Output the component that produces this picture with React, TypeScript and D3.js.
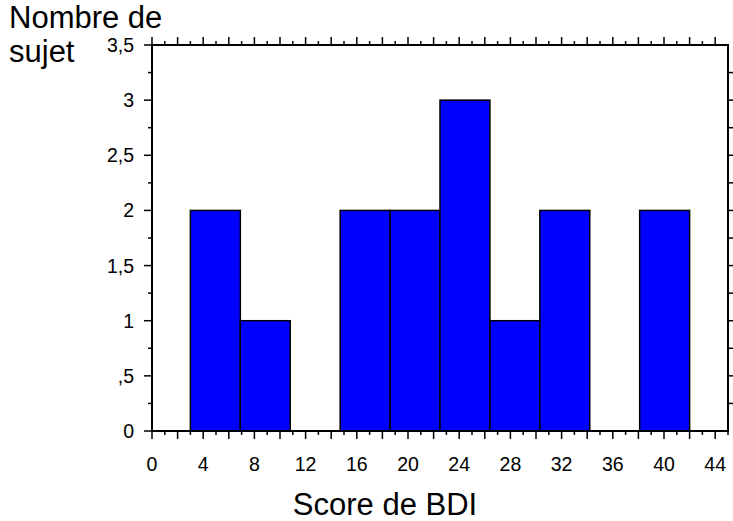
import React, { useEffect, useRef } from "react";
import * as d3 from "d3";

// histogram bins (score de BDI) and counts
const binEdges: number[] = [3, 6.9, 10.8, 14.7, 18.6, 22.5, 26.4, 30.3, 34.2, 38.1, 42];
const counts: number[] = [2, 1, 0, 2, 2, 3, 1, 2, 0, 2];
const xTickValues: number[] = [0, 4, 8, 12, 16, 20, 24, 28, 32, 36, 40, 44];
const yTickValues: number[] = [0, 0.5, 1, 1.5, 2, 2.5, 3, 3.5];
const yTickLabels: string[] = ["0", ",5", "1", "1,5", "2", "2,5", "3", "3,5"];

const W = 733;
const H = 521;
const FONT = "Liberation Sans, Arial, sans-serif";

function App() {
  const ref = useRef<SVGSVGElement>(null);

  useEffect(() => {
    const svg = d3.select(ref.current);
    svg.selectAll("*").remove();

    const left = 152, right = 728, top = 45, bottom = 431;

    const x = d3.scaleLinear().domain([0, 45]).range([left, right]);
    const y = d3.scaleLinear().domain([0, 3.5]).range([bottom, top]);

    //bars
    const bins = counts.map((c, i) => ({ x0: binEdges[i], x1: binEdges[i + 1], c }));
    svg
      .append("g")
      .selectAll("rect")
      .data(bins.filter((b) => b.c > 0))
      .join("rect")
      .attr("x", (d) => x(d.x0))
      .attr("width", (d) => x(d.x1) - x(d.x0))
      .attr("y", (d) => y(d.c))
      .attr("height", (d) => y(0) - y(d.c))
      .attr("fill", "#0000ff")
      .attr("stroke", "#000")
      .attr("stroke-width", 1.5);

    const minorX = d3.range(0, 46, 1);
    const minorY = d3.range(0, 3.51, 0.25);

    // bottom + top ticks
    const tickG = svg.append("g").attr("stroke", "#000").attr("stroke-width", 1.5);
    minorX.forEach((v) => {
      const len = v % 2 === 0 ? 8 : 4;
      tickG.append("line").attr("x1", x(v)).attr("x2", x(v)).attr("y1", bottom).attr("y2", bottom + len);
      if (v < 45) tickG.append("line").attr("x1", x(v)).attr("x2", x(v)).attr("y1", top).attr("y2", top - len);
    });
    // left + right ticks
    minorY.forEach((v) => {
      const major = Math.abs(v * 2 - Math.round(v * 2)) < 1e-6;
      tickG.append("line").attr("x1", left).attr("x2", left - (major ? 8 : 4)).attr("y1", y(v)).attr("y2", y(v));
      if (v > 0 && v < 3.5) tickG.append("line").attr("x1", right).attr("x2", right + 5).attr("y1", y(v)).attr("y2", y(v));
    });

    //frame
    svg
      .append("rect")
      .attr("x", left)
      .attr("y", top)
      .attr("width", right - left)
      .attr("height", bottom - top)
      .attr("fill", "none")
      .attr("stroke", "#000")
      .attr("stroke-width", 2);

    // tick labels
    svg
      .append("g")
      .selectAll("text")
      .data(xTickValues)
      .join("text")
      .attr("x", (d) => x(d))
      .attr("y", 471)
      .attr("text-anchor", "middle")
      .attr("font-family", FONT)
      .attr("font-size", 19.5)
      .text((d) => String(d));

    svg
      .append("g")
      .selectAll("text")
      .data(yTickValues)
      .join("text")
      .attr("x", 134)
      .attr("y", (d) => y(d) + 7)
      .attr("text-anchor", "end")
      .attr("font-family", FONT)
      .attr("font-size", 19.5)
      .text((d, i) => yTickLabels[i]);

    //axis titles
    svg.append("text").attr("x", 9).attr("y", 28).attr("font-family", FONT).attr("font-size", 31).text("Nombre de");
    svg.append("text").attr("x", 9).attr("y", 62).attr("font-family", FONT).attr("font-size", 31).text("sujet");
    svg
      .append("text")
      .attr("x", 385)
      .attr("y", 515)
      .attr("text-anchor", "middle")
      .attr("font-family", FONT)
      .attr("font-size", 31)
      .text("Score de BDI");
  }, []);

  return (
    <svg
      ref={ref}
      width={W}
      height={H}
      style={{ position: "absolute", left: 0, top: 0, background: "#fff" }}
    ></svg>
  );
}

export default App;
